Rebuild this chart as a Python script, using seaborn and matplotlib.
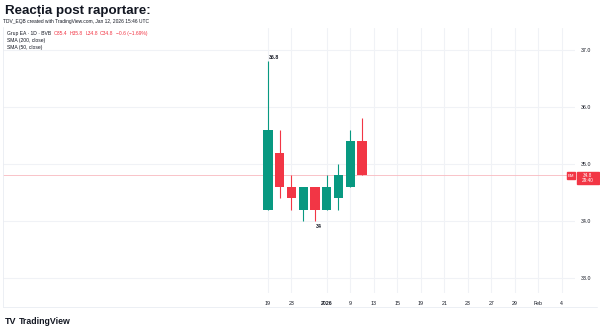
import matplotlib
matplotlib.use("Agg")
import matplotlib.pyplot as plt
import seaborn as sns
import numpy as np
from matplotlib.patches import Rectangle
from matplotlib.lines import Line2D

# ---------------- data ----------------
dates = ["Dec 19", "Dec 22", "Dec 23", "Dec 29", "Dec 30", "Jan 6", "Jan 8", "Jan 9", "Jan 12"]
opens = [34.2, 35.2, 34.6, 34.2, 34.6, 34.2, 34.4, 34.6, 35.4]
highs = [36.8, 35.6, 34.8, 34.6, 34.6, 34.8, 35.0, 35.6, 35.8]
lows = [34.2, 34.4, 34.2, 34.0, 34.0, 34.2, 34.2, 34.6, 34.8]
closes = [35.6, 34.6, 34.4, 34.6, 34.2, 34.6, 34.8, 35.4, 34.8]

tick_positions = [0, 2, 5, 7, 9, 11, 13, 15, 17, 19, 21, 23, 25]
tick_labels = ["19", "23", "2026", "9", "13", "15", "19", "21", "23", "27", "29", "Feb", "4"]
y_ticks = [33.0, 34.0, 35.0, 36.0, 37.0]

last_price = 34.8
high_label = "36.8"
low_label = "34"

title = "Reacția post raportare:"
subtitle = "TDV_EQB created with TradingView.com, Jan 12, 2026 15:46 UTC"
legend_head = "Grup EA · 1D · BVB"
legend_vals = ["O35.4", "H35.8", "L34.8", "C34.8", "−0.6 (−1.69%)"]
legend_lines = ["SMA (200, close)", "SMA (50, close)"]

# ---------------- style ----------------
sns.set_style("white")
plt.rcParams["font.family"] = ["Liberation Sans", "DejaVu Sans"]

GREEN = "#089981"
RED = "#F23645"
TXT = "#131722"
GRID = "#f0f2f6"

W, H = 600, 327
fig = plt.figure(figsize=(W / 100, H / 100), dpi=100)
fig.patch.set_facecolor("white")

def fx(px):
    return px / W

def fy(py):
    return 1 - py / H

ax_left, ax_right, ax_top, ax_bot = 3, 575, 28, 293
ax = fig.add_axes([fx(ax_left), fy(ax_bot), fx(ax_right - ax_left), (ax_bot - ax_top) / H])

x = np.arange(len(dates))
colors = [GREEN if c >= o else RED for o, c in zip(opens, closes)]

# limits derived from pixel calibration
px_per_bar = 11.75
x0_px = 268
ax.set_xlim((ax_left - x0_px) / px_per_bar, (ax_right - x0_px) / px_per_bar)
ppu = 57.0
ax.set_ylim(37 - (ax_bot - 50) / ppu, 37 + (50 - ax_top) / ppu)

# grid
for t in y_ticks:
    ax.axhline(t, color=GRID, lw=0.8, zorder=0)
for t in tick_positions:
    ax.axvline(t, color=GRID, lw=0.8, zorder=0)

# last price line
ax.axhline(last_price, color="#f9b9bf", lw=0.6, zorder=1)

# candles
ax.vlines(x, lows, highs, colors=colors, lw=0.8, zorder=2)
bottoms = [min(o, c) for o, c in zip(opens, closes)]
heights = [abs(c - o) for o, c in zip(opens, closes)]
ax.bar(x, heights, bottom=bottoms, width=0.77, color=colors, zorder=3, linewidth=0)

# high / low labels
imax = int(np.argmax(highs))
imin = int(np.argmin(lows[::-1]))
imin = len(lows) - 1 - imin
ax.annotate(high_label, (x[imax], highs[imax]), xytext=(0.3, 0.8), textcoords="offset points",
            ha="left", va="bottom", fontsize=3.8, fontweight="bold", color=TXT)
ax.annotate(low_label, (x[imin], lows[imin]), xytext=(0.6, -1.8), textcoords="offset points",
            ha="left", va="top", fontsize=3.8, fontweight="bold", color=TXT)

# axes styling
for s in ax.spines.values():
    s.set_visible(False)
ax.yaxis.tick_right()
ax.set_yticks(y_ticks)
ax.set_yticklabels([f"{v:.1f}" for v in y_ticks])
ax.set_xticks(tick_positions)
ax.set_xticklabels(tick_labels)
ax.tick_params(axis="y", length=0, pad=4.3, labelsize=3.8, labelcolor=TXT)
ax.tick_params(axis="x", length=0, pad=5.5, labelsize=3.8, labelcolor=TXT)
for lab in ax.get_xticklabels():
    if lab.get_text() == "2026":
        lab.set_fontweight("bold")
ax.set_facecolor("white")

# price label boxes
by0, by1 = 171.8, 184.0
fig.patches.append(Rectangle((fx(567), fy(179.3)), fx(8.2), (179.3 - by0) / H,
                             transform=fig.transFigure, color=RED, zorder=5))
fig.text(fx(571.1), fy(175.6), "EM", color="white", fontsize=3.2, ha="center", va="center", zorder=6)
fig.patches.append(Rectangle((fx(576.5), fy(by1)), fx(22.5), (by1 - by0) / H,
                             transform=fig.transFigure, color=RED, zorder=5))
fig.text(fx(587.5), fy(175.3), "34.8", color="white", fontsize=3.4, ha="center", va="center", zorder=6)
fig.text(fx(587.5), fy(180.8), "29:40", color="white", fontsize=3.4, ha="center", va="center", zorder=6)

# frame lines
fig.add_artist(Line2D([fx(3), fx(3)], [fy(27), fy(307)], color="#e9ecf2", lw=0.6))
fig.add_artist(Line2D([fx(3), fx(597)], [fy(307), fy(307)], color="#e9ecf2", lw=0.6))

# titles
fig.text(fx(5), fy(13.8), title, fontsize=9.6, fontweight="bold", color=TXT, va="baseline", ha="left")
fig.text(fx(3), fy(22), subtitle, fontsize=3.5, color=TXT, va="center", ha="left")

# legend row with coloured values
renderer = fig.canvas.get_renderer()
t = fig.text(fx(7), fy(33.5), legend_head, fontsize=3.6, color=TXT, va="center", ha="left")
xpos = t.get_window_extent(renderer).x1 + 3
for v in legend_vals:
    tt = fig.text(xpos / W, fy(33.5), v, fontsize=3.6, color=RED, va="center", ha="left")
    xpos = tt.get_window_extent(renderer).x1 + 2.2
for i, s in enumerate(legend_lines):
    fig.text(fx(7), fy(40.5 + 7 * i), s, fontsize=3.6, color=TXT, va="center", ha="left")

# TradingView logo
fig.text(fx(5), fy(321), "TV", fontsize=6.5, fontweight="heavy", color=TXT, va="center", ha="left")
fig.text(fx(19), fy(321), "TradingView", fontsize=6.3, fontweight="bold", color=TXT, va="center", ha="left")

fig.savefig("out.png", dpi=100, facecolor="white")
